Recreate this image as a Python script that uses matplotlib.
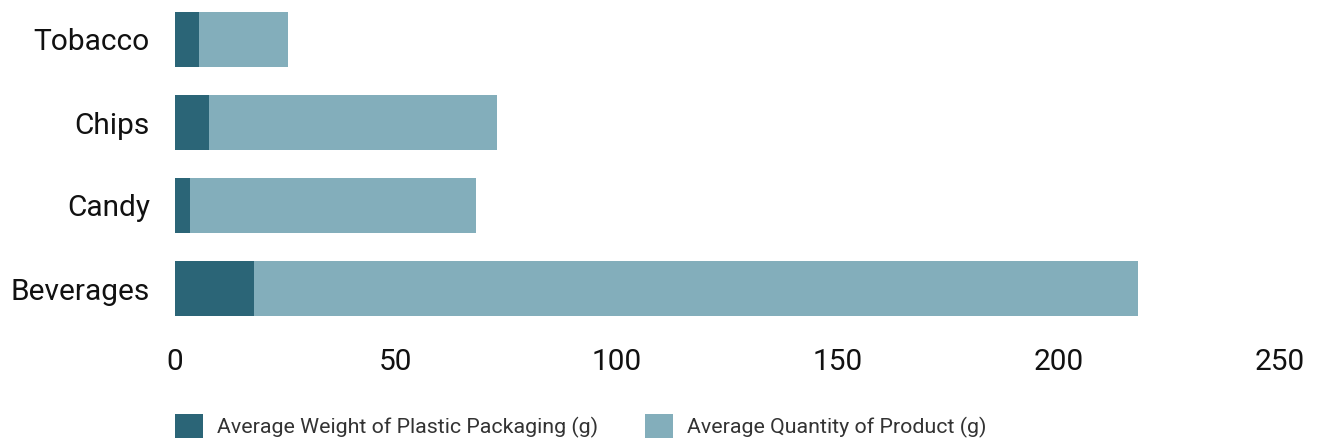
import matplotlib.pyplot as plt

categories = ['Beverages', 'Candy', 'Chips', 'Tobacco']
packaging = [17.9, 3.3, 7.8, 5.5]
product = [200, 64.8, 65, 20]
series_names = ['Average Weight of Plastic Packaging (g)', 'Average Quantity of Product (g)']
xticks = [0, 50, 100, 150, 200, 250]

dark = '#2b6577'
light = '#83aebb'

plt.rcParams['font.family'] = ['Roboto', 'DejaVu Sans']

W, H = 1320, 441
fig = plt.figure(figsize=(W / 100, H / 100), dpi=100)
ax = fig.add_axes([175 / W, (H - 330) / H, (1280 - 175) / W, 332 / H])

y = range(len(categories))
ax.barh(y, packaging, height=0.66, color=dark, label=series_names[0])
ax.barh(y, product, left=packaging, height=0.66, color=light, label=series_names[1])

ax.set_xlim(0, 250)
ax.set_ylim(-0.5, 3.5)
ax.set_xticks(xticks)
ax.set_yticks(list(y))
ax.set_yticklabels(categories)
ax.tick_params(axis='both', length=0, labelsize=21.5, labelcolor='#111111')
ax.tick_params(axis='y', pad=18)
ax.tick_params(axis='x', pad=13)
for s in ax.spines.values():
    s.set_visible(False)

fig.legend(loc='lower left', bbox_to_anchor=(175 / W, 3 / H), ncol=2, frameon=False,
           fontsize=15.4, handlelength=1.31, handleheight=1.31, handletextpad=0.65,
           columnspacing=2.2, borderpad=0, borderaxespad=0, labelcolor='#333333')

fig.savefig('out.png', dpi=100)
